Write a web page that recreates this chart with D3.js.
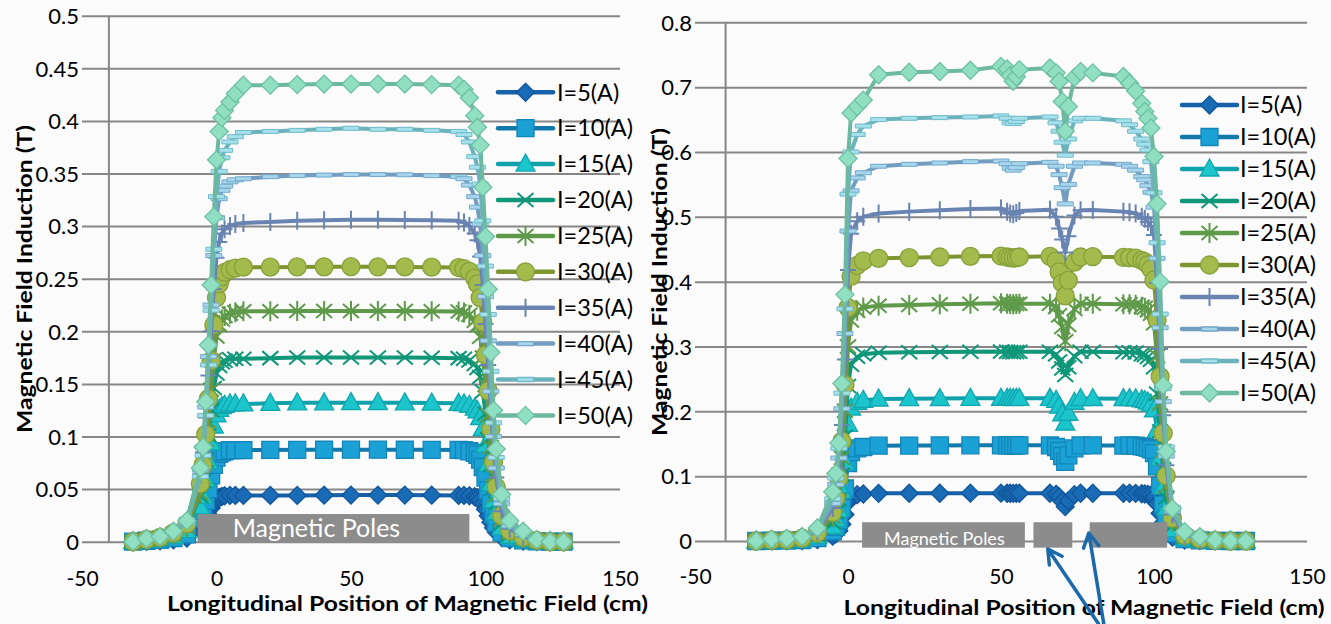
<!DOCTYPE html>
<html><head><meta charset="utf-8">
<script src="https://cdn.jsdelivr.net/npm/d3@7"></script>
<style>
body{margin:0;background:#fbfbfb;}
svg{display:block;font-family:Lato,"Open Sans",sans-serif;}
</style></head><body>
<svg id="chart" width="1331" height="624"></svg>
<script>
// ---------------- DATA ----------------
const currents = ["I=5(A)","I=10(A)","I=15(A)","I=20(A)","I=25(A)","I=30(A)","I=35(A)","I=40(A)","I=45(A)","I=50(A)"];
const xTickValues = [-50,0,50,100,150];
const yTicksLeft = [0,0.05,0.1,0.15,0.2,0.25,0.3,0.35,0.4,0.45,0.5];
const yTicksRight = [0,0.1,0.2,0.3,0.4,0.5,0.6,0.7,0.8];
const xTitle = "Longitudinal Position of Magnetic Field (cm)";
const yTitle = "Magnetic Field Induction (T)";
const poleLabel = "Magnetic Poles";
const polesLeft = [[-7,94]];
const polesRight = [[4.6,57.8],[60.6,73.3],[79,104.3]];

// left chart positions (cm)
const posLeft = [-31,-26,-21,-16,-11,-6,-5,-4,-3,-2,-1,0,1,2,3,5,7,10,20,30,40,50,60,70,80,90,92,94,96,97,98,99,100,101,102,103,104,106,109,114,119,124,129];
const leftI5  = [0,0.0004,0.0009,0.0018,0.0035,0.011,0.0145,0.020,0.0255,0.032,0.037,0.0405,0.042,0.043,0.0436,0.044,0.044,0.044, 0.044,0.044,0.0442,0.0443,0.0443,0.0443,0.0442,0.044, 0.044,0.0436,0.0427,0.0418,0.0396,0.036,0.0308,0.0246,0.0185,0.0132,0.0092,0.0044,0.0018,0.0007,0.0002,0,0];
const leftI10 = [0,0.0009,0.0017,0.0035,0.007,0.022,0.029,0.039,0.050,0.063,0.073,0.080,0.0835,0.085,0.086,0.087,0.087,0.087, 0.0872,0.0873,0.0874,0.0875,0.0875,0.0874,0.0873,0.0872, 0.087,0.086,0.0845,0.0826,0.078,0.071,0.061,0.0487,0.0365,0.026,0.018,0.0087,0.0035,0.0013,0.0004,0,0];
const leftI15 = [0,0.0013,0.0026,0.0052,0.0105,0.033,0.043,0.059,0.076,0.094,0.110,0.1205,0.1258,0.1284,0.1297,0.131,0.131,0.131, 0.1315,0.132,0.132,0.1322,0.1322,0.132,0.1318,0.1315, 0.131,0.1297,0.127,0.1245,0.118,0.1075,0.0917,0.0734,0.055,0.039,0.0275,0.0131,0.0052,0.002,0.0007,0,0];
const leftI20 = [0,0.0017,0.0035,0.007,0.014,0.0435,0.0574,0.078,0.101,0.125,0.146,0.160,0.167,0.1705,0.172,0.1735,0.174,0.174, 0.1745,0.175,0.175,0.1752,0.1752,0.175,0.1748,0.1745, 0.174,0.1722,0.1688,0.165,0.1566,0.1427,0.1218,0.0974,0.073,0.052,0.0365,0.0174,0.007,0.0026,0.0009,0,0];
const leftI25 = [0,0.0018,0.0035,0.007,0.0142,0.046,0.0613,0.0854,0.114,0.1445,0.173,0.195,0.206,0.2113,0.2146,0.2168,0.218,0.219, 0.219,0.2192,0.2193,0.2194,0.2193,0.2192,0.219,0.2188, 0.2178,0.2157,0.210,0.2058,0.1949,0.175,0.149,0.120,0.0898,0.0635,0.0438,0.0208,0.0088,0.0035,0.0011,0,0];
const leftI30 = [0,0.0021,0.0042,0.0084,0.017,0.055,0.073,0.102,0.136,0.172,0.206,0.232,0.245,0.252,0.256,0.2585,0.26,0.261, 0.261,0.2612,0.2613,0.2614,0.2613,0.2612,0.261,0.2606, 0.2595,0.257,0.2505,0.245,0.232,0.2088,0.1775,0.1435,0.107,0.0757,0.052,0.0248,0.0104,0.0042,0.0013,0,0];
const leftI35 = [0,0.0024,0.0049,0.0098,0.0197,0.064,0.085,0.118,0.158,0.200,0.240,0.270,0.285,0.293,0.297,0.300,0.302,0.303, 0.304,0.305,0.3055,0.306,0.306,0.3058,0.3055,0.305, 0.3035,0.300,0.293,0.2865,0.271,0.244,0.207,0.168,0.125,0.0885,0.061,0.029,0.0122,0.0049,0.0015,0,0];
const leftI40 = [0,0.0026,0.0052,0.0105,0.021,0.068,0.090,0.128,0.176,0.225,0.272,0.308,0.326,0.334,0.338,0.342,0.344,0.345, 0.347,0.348,0.3485,0.349,0.349,0.3488,0.348,0.347, 0.345,0.339,0.328,0.318,0.302,0.272,0.233,0.191,0.143,0.100,0.070,0.036,0.015,0.007,0.0017,0,0];
const leftI45 = [0,0.002,0.004,0.009,0.018,0.062,0.082,0.120,0.168,0.220,0.278,0.328,0.352,0.365,0.372,0.380,0.385,0.389, 0.390,0.391,0.392,0.393,0.392,0.392,0.391,0.390, 0.387,0.380,0.366,0.356,0.340,0.305,0.262,0.216,0.162,0.113,0.080,0.041,0.018,0.009,0.002,0,0];
const leftI50 = [0,0.003,0.005,0.010,0.020,0.070,0.090,0.133,0.187,0.244,0.309,0.363,0.390,0.403,0.410,0.418,0.426,0.434, 0.434,0.4345,0.435,0.435,0.435,0.435,0.4345,0.434, 0.430,0.422,0.405,0.394,0.377,0.337,0.290,0.240,0.180,0.125,0.088,0.045,0.020,0.010,0.002,0,0];

// right chart positions (cm)
const posRight = [-30,-25,-20,-15,-10,-5,-4,-3,-2,-1,0,1,3,5,10,20,30,40,50,52,53,54,55,56,66,68,69,70,71,72,74,76,80,90,92,94,96,97,98,99,100,101,102,103,104,106,110,115,120,125,130];
const rightI5  = [0,0.0002,0.0004,0.0008,0.0022,0.0075,0.011,0.016,0.026,0.041,0.060,0.068,0.0715,0.0725,0.0735, 0.0736,0.0737,0.0738,0.0738,0.0737,0.0736,0.0735,0.0736,0.0737, 0.0737,0.072,0.068,0.061,0.053,0.062,0.0715,0.0736, 0.0737,0.0736, 0.0736,0.0735,0.0729,0.0725,0.0718,0.0707,0.0677,0.0574,0.0427,0.028,0.0169,0.0059,0.0015,0.0005,0.0001,0,0];
const rightI10 = [0,0.0004,0.0007,0.0015,0.0044,0.015,0.022,0.032,0.051,0.081,0.120,0.137,0.143,0.145,0.147, 0.1472,0.1474,0.1475,0.1476,0.1475,0.1474,0.1473,0.1474,0.1475, 0.1475,0.145,0.139,0.131,0.122,0.132,0.143,0.1474, 0.1474,0.1472, 0.1474,0.1471,0.1459,0.1452,0.1437,0.1415,0.1356,0.115,0.0855,0.056,0.0339,0.0118,0.0029,0.001,0.0003,0,0];
const rightI15 = [0,0.0006,0.0011,0.0022,0.0066,0.022,0.033,0.048,0.077,0.121,0.180,0.205,0.214,0.217,0.219, 0.2195,0.2198,0.22,0.2202,0.22,0.2199,0.2198,0.2199,0.22, 0.22,0.217,0.208,0.196,0.182,0.197,0.214,0.2198, 0.2198,0.2195, 0.2198,0.2194,0.2176,0.2165,0.2143,0.211,0.2022,0.1715,0.1275,0.0835,0.0506,0.0176,0.0044,0.0015,0.0004,0,0];
const rightI20 = [0,0.0008,0.0015,0.003,0.0088,0.029,0.044,0.064,0.102,0.161,0.239,0.272,0.284,0.288,0.2905, 0.291,0.2915,0.292,0.2922,0.2918,0.2915,0.2912,0.2915,0.2918, 0.292,0.288,0.277,0.266,0.256,0.268,0.285,0.2918, 0.2918,0.2912, 0.2912,0.2906,0.2882,0.2868,0.2839,0.2795,0.2679,0.2272,0.169,0.1107,0.067,0.0233,0.0058,0.002,0.0006,0,0];
const rightI25 = [0,0.001,0.0018,0.0037,0.011,0.037,0.055,0.080,0.128,0.201,0.300,0.340,0.355,0.360,0.363, 0.364,0.365,0.366,0.3665,0.366,0.3655,0.365,0.3655,0.366, 0.366,0.361,0.348,0.330,0.308,0.333,0.358,0.366, 0.366,0.365, 0.365,0.3643,0.3614,0.3596,0.356,0.3504,0.336,0.2848,0.212,0.1388,0.084,0.0292,0.0073,0.0026,0.0007,0,0];
const rightI30 = [0,0.0012,0.0022,0.0044,0.013,0.044,0.066,0.097,0.154,0.241,0.360,0.408,0.425,0.432,0.436, 0.437,0.438,0.439,0.4395,0.438,0.437,0.4365,0.437,0.438, 0.439,0.432,0.415,0.398,0.378,0.402,0.43,0.438, 0.4385,0.4375, 0.437,0.4362,0.4327,0.4305,0.4261,0.4195,0.4022,0.341,0.2536,0.1662,0.1006,0.035,0.0088,0.0031,0.0009,0,0];
const rightI35 = [0,0.0014,0.0026,0.005,0.015,0.051,0.076,0.112,0.179,0.280,0.418,0.474,0.493,0.500,0.505, 0.508,0.510,0.512,0.513,0.508,0.505,0.504,0.506,0.509, 0.511,0.500,0.482,0.465,0.445,0.47,0.502,0.510, 0.5105,0.508, 0.507,0.505,0.500,0.497,0.492,0.486,0.472,0.398,0.296,0.194,0.117,0.041,0.010,0.0036,0.001,0,0];
const rightI40 = [0,0.0016,0.003,0.0058,0.017,0.058,0.087,0.128,0.204,0.320,0.478,0.540,0.560,0.568,0.578, 0.581,0.583,0.585,0.586,0.582,0.575,0.572,0.576,0.582, 0.584,0.578,0.565,0.545,0.52,0.55,0.578,0.583, 0.583,0.581, 0.578,0.572,0.562,0.557,0.548,0.538,0.515,0.436,0.329,0.215,0.131,0.046,0.012,0.004,0.001,0,0];
const rightI45 = [0,0.0018,0.0033,0.0065,0.019,0.065,0.097,0.143,0.228,0.358,0.535,0.600,0.627,0.640,0.650, 0.652,0.653,0.654,0.6556,0.652,0.645,0.644,0.647,0.652, 0.654,0.645,0.632,0.615,0.595,0.62,0.648,0.652, 0.652,0.648, 0.642,0.632,0.620,0.612,0.603,0.585,0.537,0.46,0.35,0.235,0.145,0.052,0.013,0.005,0.0013,0,0];
const rightI50 = [0,0.003,0.004,0.007,0.020,0.076,0.104,0.151,0.243,0.380,0.590,0.660,0.670,0.680,0.719, 0.723,0.724,0.726,0.732,0.728,0.718,0.709,0.716,0.727, 0.7295,0.722,0.709,0.678,0.632,0.670,0.715,0.724, 0.722,0.7165, 0.706,0.694,0.675,0.6625,0.652,0.637,0.593,0.520,0.400,0.240,0.138,0.050,0.0144,0.0066,0.0015,0,0];

const leftSeries = [leftI5,leftI10,leftI15,leftI20,leftI25,leftI30,leftI35,leftI40,leftI45,leftI50];
const rightSeries = [rightI5,rightI10,rightI15,rightI20,rightI25,rightI30,rightI35,rightI40,rightI45,rightI50];

// ---------------- STYLES ----------------
const styles = [
  {line:"#1661a8", fill:"#1a6bb5", stroke:"#10569a", type:"diamond"},
  {line:"#1379aa", fill:"#1ba1d6", stroke:"#1386b9", type:"square"},
  {line:"#11a1aa", fill:"#1cc4cb", stroke:"#10a7af", type:"triangle"},
  {line:"#10977a", fill:"#10977a", stroke:"#10977a", type:"x"},
  {line:"#5e9a4a", fill:"#5e9a4a", stroke:"#5e9a4a", type:"star"},
  {line:"#7e9532", fill:"#a3ba4c", stroke:"#86a03a", type:"circle"},
  {line:"#6a84b2", fill:"#6a84b2", stroke:"#6a84b2", type:"plus"},
  {line:"#729cc0", fill:"#a6d5ec", stroke:"#74a9cc", type:"dash"},
  {line:"#6cb2bc", fill:"#a6e0ea", stroke:"#70bccc", type:"dash"},
  {line:"#6cb8a0", fill:"#91dfc2", stroke:"#6dc0a2", type:"diamond"}
];
const FONT = 'Lato, "Open Sans", sans-serif';
const svg = d3.select("#chart");
svg.append("rect").attr("width",1331).attr("height",624).attr("fill","#fbfbfb");

function drawMarker(g, st) {
  const t = st.type;
  if (t === "circle") {
    g.append("circle").attr("r",9).attr("fill",st.fill).attr("stroke",st.stroke).attr("stroke-width",1.3);
  } else if (t === "x") {
    g.append("path").attr("d","M-8,-7L8,7M-8,7L8,-7").attr("fill","none").attr("stroke",st.fill).attr("stroke-width",2);
  } else if (t === "star") {
    g.append("path").attr("d","M-8,-7L8,7M-8,7L8,-7M0,-10V10").attr("fill","none").attr("stroke",st.fill).attr("stroke-width",2);
  } else if (t === "plus") {
    g.append("path").attr("d","M-8,0H8M0,-9V9").attr("fill","none").attr("stroke",st.fill).attr("stroke-width",2);
  } else {
    let d;
    if (t === "diamond") d = "M0,-9L9,0L0,9L-9,0Z";
    else if (t === "square") d = "M-8.5,-8.5H8.5V8.5H-8.5Z";
    else if (t === "triangle") d = "M0,-10L9.5,7L-9.5,7Z";
    else d = "M-8,-2H8V2H-8Z";
    g.append("path").attr("d",d).attr("fill",st.fill).attr("stroke",st.stroke).attr("stroke-width",1.3);
  }
}

function drawChart(cfg) {
  const x = d3.scaleLinear().domain([-50,150]).range(cfg.xr);
  const y = d3.scaleLinear().domain([0,cfg.ymax]).range(cfg.yr);
  const g = svg.append("g");

  // gridlines + y tick labels
  const yAxis = d3.axisLeft(y).tickValues(cfg.yticks)
      .tickSize(-(cfg.xr[1]-cfg.xr[0])).tickPadding(3).tickFormat(d => String(d));
  const ga = g.append("g").attr("transform",`translate(${cfg.xr[0]},0)`).call(yAxis)
      .attr("font-size",null).attr("font-family",null);
  ga.select(".domain").remove();
  ga.selectAll(".tick line").attr("stroke","#878787").attr("stroke-width",2);
  ga.selectAll(".tick text").attr("font-size",22).attr("font-family",FONT).attr("fill","#000").attr("dy","0.35em");

  // x tick labels
  const xAxis = d3.axisBottom(x).tickValues(xTickValues).tickSize(0).tickFormat(d => String(d));
  const gx = g.append("g").attr("transform",`translate(0,${y(0)})`).call(xAxis)
      .attr("font-size",null).attr("font-family",null);
  gx.select(".domain").remove();
  gx.selectAll(".tick text").attr("font-size",21).attr("font-family",FONT).attr("fill","#000")
      .attr("y",cfg.xLabBase).attr("dy",0);

  // vertical axis line
  g.append("line").attr("x1",x(-40)).attr("x2",x(-40)).attr("y1",y(0)).attr("y2",y(cfg.ymax))
      .attr("stroke","#878787").attr("stroke-width",2);

  // series
  const line = d3.line().x(d => x(d[0])).y(d => y(d[1]));
  cfg.series.forEach((vals, i) => {
    const st = styles[i];
    const pts = cfg.pos.map((p, k) => [p, vals[k]]);
    const sg = g.append("g");
    sg.append("path").datum(pts).attr("d",line).attr("fill","none").attr("stroke",st.line)
      .attr("stroke-width",4).attr("stroke-linejoin","round").attr("stroke-linecap","round");
    sg.selectAll("g.m").data(pts).join("g").attr("class","m")
      .attr("transform",d => `translate(${x(d[0])},${y(d[1])})`)
      .each(function(){ drawMarker(d3.select(this), st); });
    if (st.type === "dash") {
      sg.selectAll("g.m path").attr("stroke-width",1);
    }
  });

  // poles
  cfg.poles.forEach((p, k) => {
    g.append("rect").attr("x",x(p[0])).attr("width",x(p[1])-x(p[0]))
      .attr("y",y(cfg.poleTop)).attr("height",y(cfg.poleBottom)-y(cfg.poleTop))
      .attr("fill","#8c8c8c");
    if (k === 0) {
      g.append("text").attr("x",x(p[0])+cfg.poleTextDx).attr("y",y(cfg.poleBottom)-cfg.poleTextDb)
        .attr("font-size",cfg.poleFont).attr("font-family",FONT).attr("fill","#fff").text(poleLabel);
    }
  });

  // legend
  const lg = g.append("g");
  currents.forEach((name, i) => {
    const ly = cfg.legY0 + i*cfg.legDy;
    const st = styles[i];
    lg.append("line").attr("x1",cfg.legX0).attr("x2",cfg.legX1).attr("y1",ly).attr("y2",ly)
      .attr("stroke",st.line).attr("stroke-width",4.5).attr("stroke-linecap","round");
    const mg = lg.append("g").attr("transform",`translate(${(cfg.legX0+cfg.legX1)/2},${ly})`);
    drawMarker(mg, st);
    lg.append("text").attr("x",cfg.legTx).attr("y",ly).attr("dy","0.35em")
      .attr("font-size",23.5).attr("font-family",FONT).attr("fill","#000").text(name);
  });

  // titles
  g.append("text").attr("x",cfg.xTitleX).attr("y",cfg.xTitleY).attr("text-anchor","middle")
    .attr("font-size",20).attr("font-weight","bold").attr("font-family",FONT).attr("fill","#000")
    .attr("textLength",481).attr("lengthAdjust","spacingAndGlyphs").text(xTitle);
  g.append("text").attr("transform",`translate(${cfg.yTitleX},${cfg.yTitleY}) rotate(-90)`)
    .attr("text-anchor","middle")
    .attr("font-size",21).attr("font-weight","bold").attr("font-family",FONT).attr("fill","#000")
    .attr("textLength",308).attr("lengthAdjust","spacingAndGlyphs").text(yTitle);

  return {x, y, g};
}

drawChart({
  xr:[82,620], yr:[541.7,15.7], ymax:0.5, yticks:yTicksLeft, xLabBase:44.5,
  pos:posLeft, series:leftSeries, poles:polesLeft, poleTop:0.0263, poleBottom:-0.001,
  poleTextDx:35, poleTextDb:6, poleFont:25,
  legY0:92.3, legDy:35.9, legX0:498, legX1:553, legTx:557,
  xTitleX:407.5, xTitleY:611, yTitleX:32, yTitleY:279
});

const R = drawChart({
  xr:[695,1307], yr:[541,22.3], ymax:0.8, yticks:yTicksRight, xLabBase:43,
  pos:posRight, series:rightSeries, poles:polesRight, poleTop:0.0289, poleBottom:-0.0103,
  poleTextDx:22, poleTextDb:3, poleFont:18,
  legY0:105, legDy:32, legX0:1182, legX1:1237, legTx:1240,
  xTitleX:1084, xTitleY:615, yTitleX:667, yTitleY:282
});

// arrows pointing at the gaps between pole pieces
const arrows = [[[81.9,-0.128],[65.3,-0.0123]],[[83.6,-0.128],[78.7,0.0123]]];
const ag = svg.append("g");
arrows.forEach(a => {
  const x1 = R.x(a[0][0]), y1 = R.y(a[0][1]), x2 = R.x(a[1][0]), y2 = R.y(a[1][1]);
  const ang = Math.atan2(y2-y1, x2-x1);
  const L = 16, spread = 0.5;
  const p1 = [x2 - L*Math.cos(ang-spread), y2 - L*Math.sin(ang-spread)];
  const p2 = [x2 - L*Math.cos(ang+spread), y2 - L*Math.sin(ang+spread)];
  ag.append("path").attr("d",`M${x1},${y1}L${x2},${y2}M${p1[0]},${p1[1]}L${x2},${y2}L${p2[0]},${p2[1]}`)
    .attr("fill","none").attr("stroke","#1b69ab").attr("stroke-width",3.5)
    .attr("stroke-linecap","round").attr("stroke-linejoin","round");
});
</script>
</body></html>
